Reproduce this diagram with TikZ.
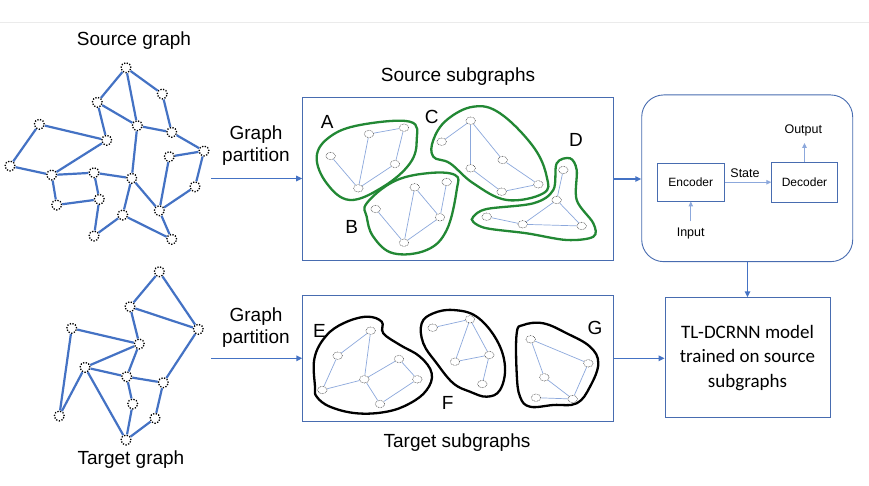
\documentclass[tikz,border=0pt]{standalone}
\usepackage{fontspec}
\setmainfont{Liberation Sans}
\newfontfamily\calibri{Carlito}
\usetikzlibrary{shapes.geometric,arrows.meta}
\definecolor{eblue}{RGB}{68,114,196}
\definecolor{boxblue}{RGB}{72,108,176}
\definecolor{subblue}{RGB}{140,168,220}
\definecolor{blobgreen}{RGB}{34,136,52}
\tikzset{
  sg/.style={circle, draw=black, line width=1.3pt, dash pattern=on 1.3pt off 1.5pt, fill=white, minimum size=10pt, inner sep=0pt},
  sub/.style={ellipse, draw=black!75, line width=0.5pt, dash pattern=on 0.8pt off 0.8pt, fill=white, minimum width=9.5pt, minimum height=7.5pt, inner sep=0pt},
  gedge/.style={eblue, line width=2.2pt},
  sedge/.style={subblue, line width=0.7pt},
  blob/.style={line width=2.3pt},
  panel/.style={draw=boxblue, line width=0.9pt, fill=white, inner sep=0pt},
  flow/.style={eblue, line width=1.6pt, -{Triangle[length=6pt,width=5.5pt]}},
  thinflow/.style={subblue, line width=1.1pt, -{Triangle[length=5pt,width=4.5pt]}},
  big/.style={font=\fontsize{19}{22}\selectfont},
  letter/.style={font=\fontsize{19}{19}\selectfont},
  small/.style={font=\fontsize{12}{14}\selectfont},
}
\begin{document}
\begin{tikzpicture}[x=1pt,y=-1pt]
\useasboundingbox (0,0) rectangle (869,486);
\fill[white] (0,0) rectangle (869,486);
\draw[black!8, line width=0.6pt] (0,22) -- (869,22);

% titles
\node[big] (t1) at (134,41) {Source graph};
\node[big] (t2) at (458,77) {Source subgraphs};
\node[big] (t3) at (457,443) {Target subgraphs};
\node[big] (t4) at (131,460) {Target graph};
\node[big, align=center] (gp1) at (256,145.5) {Graph\\partition};
\node[big, align=center] (gp2) at (256,327.5) {Graph\\partition};

% panels
\node[panel, minimum width=310.3pt, minimum height=163.4pt] (sbox) at (457.8,179) {};
\node[panel, minimum width=310.6pt, minimum height=126.7pt] (tbox) at (458,358.3) {};
\node[panel, rounded corners=22pt, minimum width=211pt, minimum height=166.7pt] (rbox) at (747.2,178.3) {};
\node[panel, minimum width=165pt, minimum height=120pt, align=center, font=\calibri\fontsize{19}{24.5}\selectfont] (tl) at (747.5,357.7) {TL-DCRNN model\\trained on source\\subgraphs};

% source graph
\foreach \n/\x/\y in {n1/126/67.7, n2/162.3/94, n3/97.3/102.3, n4/39.3/124.3, n5/137.3/125.7,
  n6/171.7/132.3, n7/106.7/140.3, n8/204/151, n9/169.3/156.7, n10/10/166, n11/51.7/175,
  n12/94/172.7, n13/131.7/178.3, n14/195/186.7, n15/56.7/205, n16/99.3/199.3, n17/159.3/210.7,
  n18/122.7/215, n19/94/236, n20/171.7/239.3}
  \node[sg] (\n) at (\x,\y) {};
\foreach \a/\b in {n1/n3, n1/n2, n1/n5, n2/n6, n3/n7, n3/n5, n5/n6, n5/n13, n4/n7, n4/n10,
  n7/n11, n10/n11, n11/n12, n12/n13, n11/n15, n15/n16, n12/n16, n16/n19, n19/n18, n18/n13,
  n18/n20, n13/n17, n17/n20, n17/n9, n17/n14, n9/n8, n8/n14, n6/n8}
  \draw[gedge] (\a) -- (\b);

% target graph
\foreach \n/\x/\y in {m1/159.3/271.7, m2/130/306.7, m3/71.7/328.3, m4/198.3/329.3, m5/139.3/344,
  m6/85/367.3, m7/126.7/376.7, m8/163.3/382.7, m9/132.7/404, m10/59.3/416, m11/155/418.3, m12/126/440}
  \node[sg] (\n) at (\x,\y) {};
\foreach \a/\b in {m1/m2, m1/m4, m2/m4, m2/m5, m3/m5, m3/m10, m5/m6, m5/m7, m6/m10, m6/m7,
  m6/m12, m7/m8, m4/m8, m7/m9, m9/m12, m12/m11, m11/m8}
  \draw[gedge] (\a) -- (\b);

% source subgraph blobs
\draw[blob, blobgreen] plot[smooth cycle, tension=0.65] coordinates {(316.7,156.7) (330,136.7) (360,125) (410,121.7) (416.7,140) (410,163.3) (383.3,186.7) (350,200) (326.7,183.3)};
\draw[blob, blobgreen] plot[smooth cycle, tension=0.65] coordinates {(366.7,203.3) (393.3,181.7) (426.7,173.3) (455,175) (456.7,190) (446.7,230) (426.7,250) (393.3,253.3) (373.3,236.7) (366.7,216.7)};
\draw[blob, blobgreen] plot[smooth cycle, tension=0.65] coordinates {(433.3,140) (446.7,120) (473.3,106.7) (500,113.3) (533.3,146.7) (546.7,176.7) (543.3,193.3) (506.7,200) (473.3,183.3) (450,163.3) (433.3,156.7)};
\draw[blob, blobgreen] plot[smooth cycle, tension=0.55] coordinates {(473.3,216.7) (486.7,209) (533.3,203.3) (553.3,190) (556.7,163.3) (570,158.3) (576.7,170) (576.7,200) (593.3,223.3) (593.3,236.7) (566.7,240) (526.7,233.3) (486.7,228.3) (473.3,222)};

% target subgraph blobs
\draw[blob, black] plot[smooth cycle, tension=0.65] coordinates {(315,386.7) (314.5,358) (326,336) (344,323) (366.7,316.7) (381.7,321.7) (383.3,333.3) (400,345) (420,356.7) (431.7,373.3) (426.7,390) (410,403.3) (386.7,411.7) (356.7,413.3) (330,406.7) (316.7,396.7)};
\draw[blob, black] plot[smooth cycle, tension=0.65] coordinates {(421.7,323.3) (433.3,313.3) (453.3,310) (476.7,316.7) (496.7,340) (505,366.7) (500,390) (486.7,396.7) (470,391.7) (453.3,383.3) (436.7,363.3) (423.3,343.3)};
\draw[blob, black] plot[smooth cycle, tension=0.65] coordinates {(516.7,333.3) (523.3,325) (543.3,323.3) (566.7,333.3) (590,346.7) (598.3,363.3) (590,386.7) (576.7,403.3) (553.3,405) (530,406.7) (520,396.7) (516.7,373.3)};

% subgraph nodes
\foreach \n/\x/\y in {a1/330.7/156, a2/369/134, a3/404/127.7, a4/395/164, a5/358.3/188.3,
  b1/375.7/209, b2/414.7/187.3, b3/446.7/182, b4/440/217.3, b5/404/242.7,
  c1/441.7/141.7, c2/470.7/120.7, c3/502.7/160, c4/470.7/168.3, c5/538.3/184.3, c6/501.7/191.7,
  d1/563.3/170, d2/556.7/200, d3/486.7/216.7, d4/522.7/224.3, d5/581.7/226,
  e1/370.7/330.7, e2/337.7/355.7, e3/399/359, e4/364.3/379.3, e5/417.3/379.3, e6/322.3/390, e7/380/404,
  f1/432.7/327.7, f2/470/319.3, f3/489.3/355, f4/455/361.7, f5/482.3/384,
  g1/530.7/339.3, g2/588.3/363.3, g3/544.3/377.3, g4/536/397.7, g5/572.7/399}
  \node[sub] (\n) at (\x,\y) {};
\foreach \a/\b in {a1/a5, a2/a5, a2/a3, a3/a4, a4/a5,
  b1/b5, b2/b5, b2/b4, b3/b4, b4/b5,
  c1/c2, c2/c4, c2/c3, c3/c5, c4/c6, c6/c5,
  d1/d2, d2/d4, d2/d5, d3/d4, d4/d5,
  e1/e2, e1/e4, e2/e6, e4/e6, e4/e3, e3/e5, e5/e7, e7/e4,
  f1/f2, f2/f4, f2/f3, f4/f3, f3/f5,
  g1/g2, g1/g3, g3/g5, g4/g5, g2/g5}
  \draw[sedge] (\a) -- (\b);

% letters
\node[letter] (la) at (327.3,121.7) {A};
\node[letter] (lb) at (351.7,226.7) {B};
\node[letter] (lc) at (431.7,117.3) {C};
\node[letter] (ld) at (576,140) {D};
\node[letter] (le) at (319.5,330.5) {E};
\node[letter] (lf) at (447.7,402.7) {F};
\node[letter] (lg) at (595,328.3) {G};

% encoder-decoder
\node[panel, minimum width=67pt, minimum height=37.7pt, small] (enc) at (690.8,182.2) {Encoder};
\node[panel, minimum width=65.6pt, minimum height=39.6pt, small] (dec) at (804.5,182.5) {Decoder};
\node[small, font=\fontsize{12.5}{14}\selectfont] (state) at (745,172.7) {State};
\node[small, font=\fontsize{12.5}{14}\selectfont] (out) at (803.3,130.7) {Output};
\node[small, font=\fontsize{12.5}{14}\selectfont] (inp) at (690.7,233) {Input};
\coordinate (outtip) at (804.5,143);
\coordinate (inbase) at (690.8,221.5);
\draw[thinflow] (enc.east) -- (dec.west |- enc.east);
\draw[thinflow] (dec.north) -- (outtip);
\draw[thinflow] (inbase) -- (enc.south);

% main arrows
\coordinate (s1) at (211,178.5);
\coordinate (s2) at (211,358.3);
\draw[flow] (s1) -- (s1 -| sbox.west);
\draw[flow] (s2) -- (s2 -| tbox.west);
\draw[flow] (sbox.east) -- (sbox.east -| rbox.west);
\draw[flow] (rbox.south -| tl.north) -- (tl.north);
\draw[flow] (tbox.east) -- (tbox.east -| tl.west);
\end{tikzpicture}
\end{document}
